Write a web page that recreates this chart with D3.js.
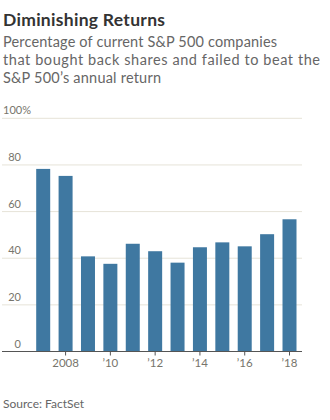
<!DOCTYPE html>
<html>
<head>
<meta charset="utf-8">
<script src="https://cdn.jsdelivr.net/npm/d3@7"></script>
<style>
  body { margin: 0; background: #fff; }
  text { font-family: Lato, "Open Sans", sans-serif; }
</style>
</head>
<body>
<script>
var years = [2007, 2008, 2009, 2010, 2011, 2012, 2013, 2014, 2015, 2016, 2017, 2018];
var shares = [78.3, 75.3, 40.8, 37.6, 46.2, 43.0, 38.1, 44.7, 46.8, 45.1, 50.3, 56.7];
var yTicks = [0, 20, 40, 60, 80, 100];
var xTicks = [2008, 2010, 2012, 2014, 2016, 2018];
var xTickLabels = ["2008", "\u201910", "\u201912", "\u201914", "\u201916", "\u201918"];

var width = 330;
var height = 420;

var svg = d3.select("body")
  .append("svg")
  .attr("width", width)
  .attr("height", height);

svg.append("text")
  .attr("x", 3)
  .attr("y", 25.5)
  .attr("font-size", 17.5)
  .attr("font-weight", "bold")
  .attr("fill", "#333")
  .attr("textLength", 162)
  .attr("lengthAdjust", "spacing")
  .text("Diminishing Returns");

var subtitle = ["Percentage of current S&P 500 companies",
  "that bought back shares and failed to beat the",
  "S&P 500\u2019s annual return"];
var subWidths = [274, 317, 158];

svg.selectAll(".sub")
  .data(subtitle)
  .enter()
  .append("text")
  .attr("class", "sub")
  .attr("x", 3)
  .attr("y", (d, i) => 46.5 + i * 18.3)
  .attr("font-size", 14.5)
  .attr("fill", "#666")
  .attr("textLength", (d, i) => subWidths[i])
  .attr("lengthAdjust", "spacing")
  .text(d => d);

var x = d3.scaleBand().domain(years).range([36.2, 296.5]).paddingInner(0.375).paddingOuter(0);
var y = d3.scaleLinear().domain([0, 100]).range([351.5, 118.3]);

// gridlines
svg.selectAll(".grid")
  .data(yTicks.filter(d => d > 0))
  .enter()
  .append("line")
  .attr("x1", 2)
  .attr("x2", 302)
  .attr("y1", d => y(d))
  .attr("y2", d => y(d))
  .attr("stroke", "#e6e3d8")
  .attr("stroke-width", 1);

svg.selectAll(".ylab")
  .data(yTicks)
  .enter()
  .append("text")
  .attr("x", d => d == 100 ? 3 : 21)
  .attr("y", d => y(d) - 4)
  .attr("text-anchor", d => d == 100 ? "start" : "end")
  .attr("font-size", 11)
  .attr("fill", "#77756c")
  .text(d => d == 100 ? "100%" : d);

svg.selectAll(".bar")
  .data(years)
  .enter()
  .append("rect")
  .attr("x", d => x(d))
  .attr("width", x.bandwidth())
  .attr("y", (d, i) => y(shares[i]))
  .attr("height", (d, i) => y(0) - y(shares[i]))
  .attr("fill", "#3f78a1");

// baseline
svg.append("line")
  .attr("x1", 2)
  .attr("x2", 302)
  .attr("y1", y(0))
  .attr("y2", y(0))
  .attr("stroke", "#555")
  .attr("stroke-width", 1);

svg.selectAll(".xtick")
  .data(xTicks)
  .enter()
  .append("line")
  .attr("x1", d => x(d) + x.bandwidth() / 2)
  .attr("x2", d => x(d) + x.bandwidth() / 2)
  .attr("y1", y(0))
  .attr("y2", y(0) + 4)
  .attr("stroke", "#555");

svg.selectAll(".xlab")
  .data(xTicks)
  .enter()
  .append("text")
  .attr("x", d => x(d) + x.bandwidth() / 2)
  .attr("y", 367)
  .attr("text-anchor", "middle")
  .attr("font-size", 11.5)
  .attr("fill", "#77756c")
  .text((d, i) => xTickLabels[i]);

svg.append("text")
  .attr("x", 3)
  .attr("y", 407.5)
  .attr("font-size", 12)
  .attr("fill", "#666")
  .text("Source: FactSet");
</script>
</body>
</html>
